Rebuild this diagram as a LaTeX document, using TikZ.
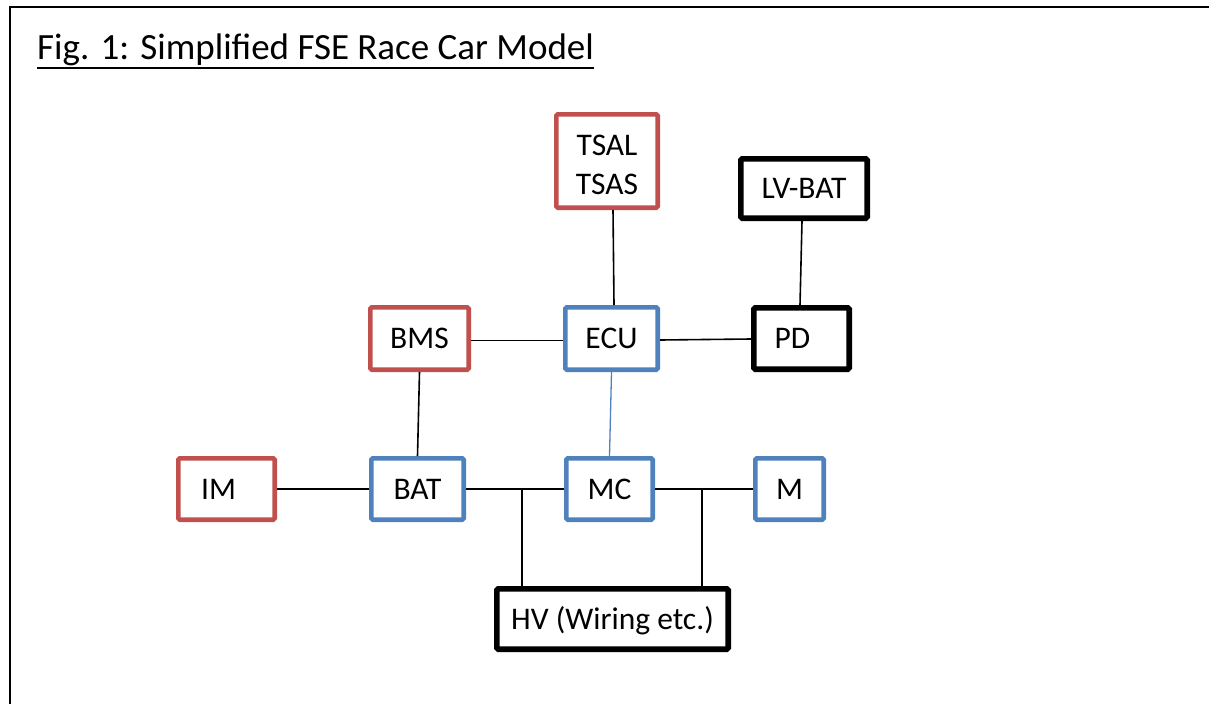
\documentclass[tikz,border=0pt]{standalone}
\usepackage{fontspec}
\setmainfont{Carlito}
\definecolor{boxred}{HTML}{C0504D}
\definecolor{boxblue}{HTML}{4F81BD}
\begin{document}
\begin{tikzpicture}[x=1pt,y=-1pt,
  unit/.style={draw, inner sep=0pt, rounded corners=1.5pt, text=black,
    font=\fontsize{31.5}{39.5}\selectfont, text height=20.3pt, text depth=0pt},
  redunit/.style={unit, draw=boxred, line width=4.6pt},
  blueunit/.style={unit, draw=boxblue, line width=4.6pt},
  blackunit/.style={unit, draw=black, line width=5.6pt},
  boxsize/.style 2 args={minimum width=#1pt, minimum height=#2pt},
  wire/.style={line width=1.6pt, draw=black},
  bluewire/.style={line width=1.3pt, draw=boxblue}]
\useasboundingbox (0,0) rectangle (1209,704);

% frame
\draw[line width=2.2pt] (10,704) -- (10,7) -- (1209,7);

% title
\node[anchor=base west, inner sep=0pt, font=\fontsize{37}{44}\selectfont] (title) at (37,59)
  {Fig. 1: Simplified FSE Race Car Model};
\draw[line width=2pt] ([yshift=-9pt]title.base west) -- ([yshift=-9pt]title.base east);

% units
\node[redunit, boxsize={101.4}{93.4}] (tsal) at (607,161) {};
\node[inner sep=0pt, align=center, font=\fontsize{31.5}{39.5}\selectfont] (tsaltext) at (607,165) {TSAL\\TSAS};
\node[blackunit, boxsize={126.4}{59.4}] (lvbat) at (804,188.5) {LV-BAT};
\node[redunit, boxsize={98.4}{62.4}] (bms) at (419.5,338.5) {BMS};
\node[blueunit, boxsize={92.4}{62.4}] (ecu) at (611.5,338.5) {ECU};
\node[blackunit, boxsize={95.4}{61.4}] (pd) at (801.5,338.5) {\hspace*{-18pt}PD};
\node[redunit, boxsize={96.4}{61.4}] (im) at (226.5,489) {\hspace*{-16pt}IM};
\node[blueunit, boxsize={92.4}{61.4}] (bat) at (417.5,489) {BAT};
\node[blueunit, boxsize={86.4}{61.4}] (mc) at (609.5,489) {MC};
\node[blueunit, boxsize={68.4}{61.4}] (m) at (789.5,489) {M};
\node[blackunit, boxsize={231.4}{60.4}] (hv) at (612.5,619) {HV (Wiring etc.)};

% junctions on the high-voltage line
\coordinate (j1) at (522,489);
\coordinate (j2) at (702,489);

% connections
\draw[wire] ([xshift=6pt]tsal.south) -- ([xshift=2.5pt]ecu.north);
\draw[wire] ([xshift=-2pt]lvbat.south) -- ([xshift=-1.5pt]pd.north);
\draw[wire] ([yshift=-2pt]bms.east) -- ([yshift=-2pt]ecu.west);
\draw[wire] ([yshift=-1.5pt]ecu.east) -- ([yshift=-0.5pt]pd.west);
\draw[wire] (bms.south) -- (bat.north);
\draw[bluewire] (ecu.south) -- (mc.north);
\draw[wire] (im.east) -- (bat.west);
\draw[wire] (bat.east) -- (mc.west);
\draw[wire] (mc.east) -- (m.west);
\draw[wire] (j1) -- (j1 |- hv.north);
\draw[wire] (j2) -- (j2 |- hv.north);
\end{tikzpicture}
\end{document}
